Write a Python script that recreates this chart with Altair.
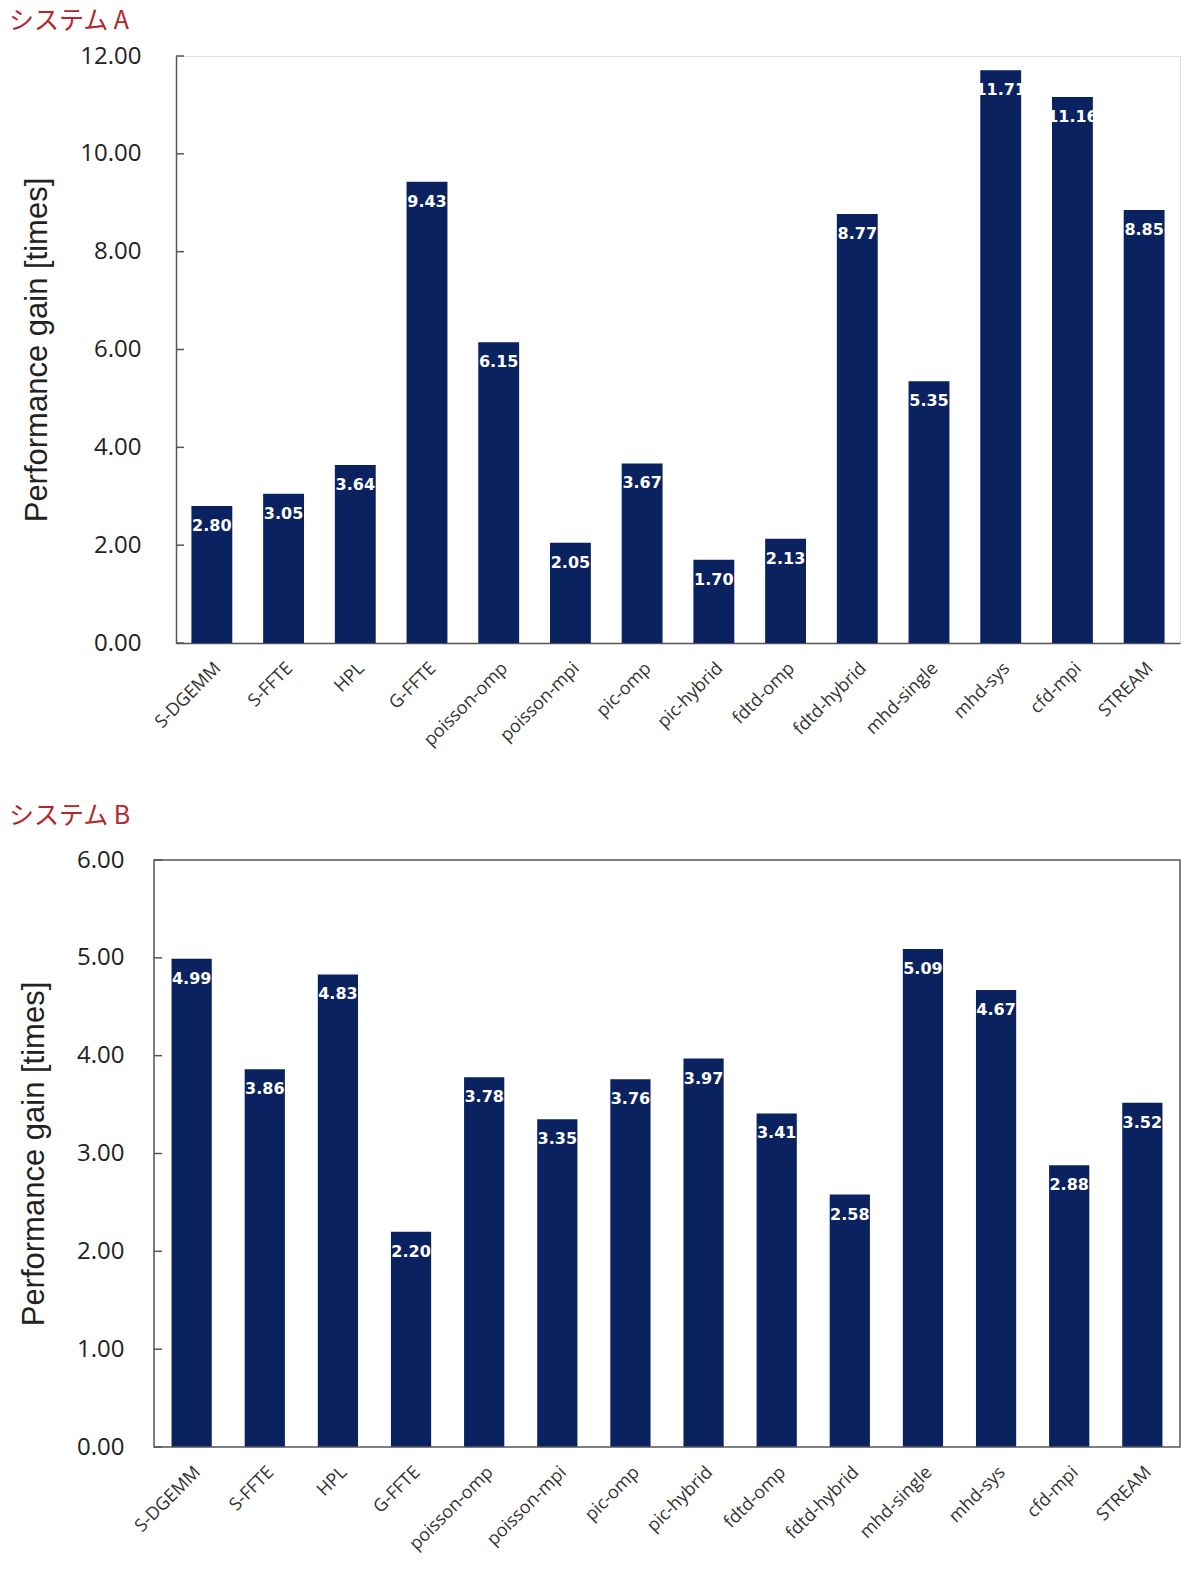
import altair as alt
import pandas as pd

benchmarks = ["S-DGEMM", "S-FFTE", "HPL", "G-FFTE", "poisson-omp", "poisson-mpi",
              "pic-omp", "pic-hybrid", "fdtd-omp", "fdtd-hybrid", "mhd-single",
              "mhd-sys", "cfd-mpi", "STREAM"]
gain_a = [2.80, 3.05, 3.64, 9.43, 6.15, 2.05, 3.67, 1.70, 2.13, 8.77, 5.35, 11.71, 11.16, 8.85]
gain_b = [4.99, 3.86, 4.83, 2.20, 3.78, 3.35, 3.76, 3.97, 3.41, 2.58, 5.09, 4.67, 2.88, 3.52]
ticks_a = [0, 2, 4, 6, 8, 10, 12]
ticks_b = [0, 1, 2, 3, 4, 5, 6]

BAR = "#0b2260"
FRAME = "#555555"
TITLE_RED = "#b0282c"
H = 587


def panel(title, values, ticks, ymax, width, pad_in, pad_out, label_pad, shift, title_offset):
    """shift: how far (px) the visible frame extends left of the group origin."""
    df = pd.DataFrame({"bench": benchmarks, "gain": values})
    tdf = pd.DataFrame({"t": ticks})
    xscale = alt.Scale(paddingInner=pad_in, paddingOuter=pad_out)
    if shift:
        xscale = alt.Scale(paddingInner=pad_in, paddingOuter=pad_out, range=[-shift, width])
    x = alt.X("bench:N", sort=benchmarks, title=None, scale=xscale,
              axis=alt.Axis(labelAngle=-45, ticks=False, tickSize=0, labelPadding=16,
                            labelFont="Open Sans", labelFontSize=18, labelColor="#333333",
                            domain=not shift, domainColor=FRAME, domainWidth=1.5))
    y = alt.Y("gain:Q", title="Performance gain [times]",
              scale=alt.Scale(domain=[0, ymax], nice=False),
              axis=alt.Axis(values=ticks, format=".2f", grid=False, ticks=False, tickSize=0,
                            offset=shift, domain=not shift,
                            labelPadding=label_pad, labelFont="Open Sans", labelFontSize=24,
                            labelColor="#222222", domainColor=FRAME, domainWidth=1.5,
                            titleFont="Liberation Sans", titleFontSize=31,
                            titleFontWeight="normal", titleColor="#222222", titlePadding=26))
    base = alt.Chart(df)
    bars = base.mark_bar(color=BAR).encode(x=x, y=y)
    labels = base.mark_text(color="white", font="DejaVu Sans", fontWeight="bold",
                            fontSize=16, baseline="middle", dy=20).encode(
        x=alt.X("bench:N", sort=benchmarks), y=alt.Y("gain:Q"),
        text=alt.Text("gain:Q", format=".2f"))
    tickmarks = alt.Chart(tdf).mark_rule(color=FRAME, strokeWidth=1.5).encode(
        x=alt.value(-shift), x2=alt.value(-shift + 8), y=alt.Y("t:Q"))
    layers = [bars, labels, tickmarks]
    props = dict(width=width, height=H,
                 title=alt.Title(title, anchor="start", frame="group", dx=-167,
                                 offset=title_offset, font="Noto Sans CJK JP", fontSize=25,
                                 fontWeight="normal", color=TITLE_RED))
    if shift:
        frame = alt.Chart(pd.DataFrame({"f": [0]})).mark_rect(
            fill="transparent", stroke=FRAME, strokeWidth=1.5).encode(
            x=alt.value(-shift), x2=alt.value(width), y=alt.value(0), y2=alt.value(H))
        layers.append(frame)
        props["view"] = alt.ViewConfig(stroke="transparent")
    return alt.layer(*layers).properties(**props)


chart_a = panel("システム A", gain_a, ticks_a, 12, 1004, 0.43, 0.215, 35, 0, 10)
chart_b = panel("システム B", gain_b, ticks_b, 6, 1004, 0.45, 0.24, 30, 22, 19)

chart = alt.concat(chart_a, chart_b, columns=1, spacing=53,
                   padding={"top": 0, "left": 0, "right": -14, "bottom": 0}).configure_view(
    stroke=FRAME, strokeWidth=1.5
).configure(background="white")

chart.save("out.html", embed_options={"renderer": "svg", "actions": False})
